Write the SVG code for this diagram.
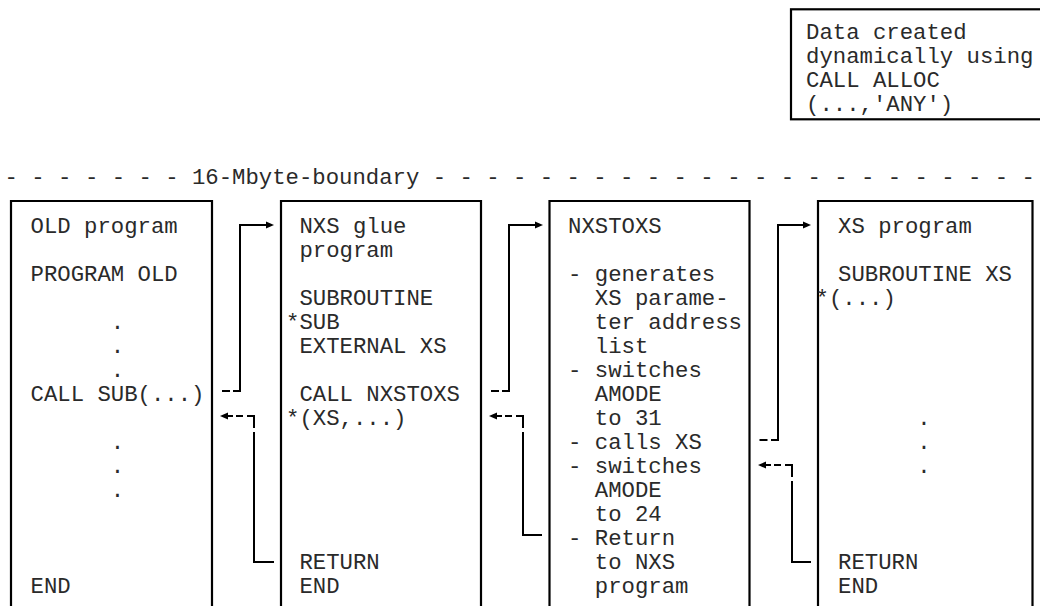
<svg xmlns="http://www.w3.org/2000/svg" width="1040" height="606" viewBox="0 0 1040 606">
<style>
.t{font-family:"Liberation Mono","Courier New",monospace;font-size:22.3px;fill:#2a2a2a}
.b{fill:none;stroke:#000;stroke-width:2.2}
.c{fill:none;stroke:#000;stroke-width:2}
.ah{fill:#000}
</style>
<rect width="1040" height="606" fill="#fff"/>
<g id="dynamic-data">
<rect class="b" x="791" y="9.3" width="270" height="110"/>
<text class="t" x="806" y="39">Data created</text>
<text class="t" x="806" y="63">dynamically using</text>
<text class="t" x="806" y="87">CALL ALLOC</text>
<text class="t" x="806" y="111">(...,'ANY')</text>
</g>
<g id="boundary">
<text class="t" x="4.6" y="184">- - - - - - - 16-Mbyte-boundary - - - - - - - - - - - - - - - - - - - - - - -</text>
</g>
<g id="old-program">
<path class="b" d="M11,608 V201 H212 V608"/>
<text class="t" x="30.5" y="233">OLD program</text>
<text class="t" x="30.5" y="281">PROGRAM OLD</text>
<text class="t" x="110.8" y="329">.</text>
<text class="t" x="110.8" y="353">.</text>
<text class="t" x="110.8" y="377">.</text>
<text class="t" x="30.5" y="401">CALL SUB(...)</text>
<text class="t" x="110.8" y="449">.</text>
<text class="t" x="110.8" y="473">.</text>
<text class="t" x="110.8" y="497">.</text>
<text class="t" x="30.5" y="593">END</text>
</g>
<g id="nxs-glue">
<path class="b" d="M281,608 V201 H481 V608"/>
<text class="t" x="299.4" y="233">NXS glue</text>
<text class="t" x="299.4" y="257">program</text>
<text class="t" x="299.4" y="305">SUBROUTINE</text>
<text class="t" x="286" y="329">*SUB</text>
<text class="t" x="299.4" y="353">EXTERNAL XS</text>
<text class="t" x="299.4" y="401">CALL NXSTOXS</text>
<text class="t" x="286" y="425">*(XS,...)</text>
<text class="t" x="299.4" y="569">RETURN</text>
<text class="t" x="299.4" y="593">END</text>
</g>
<g id="nxstoxs">
<path class="b" d="M549.5,608 V201 H749.5 V608"/>
<text class="t" x="568" y="233">NXSTOXS</text>
<text class="t" x="568" y="281">- generates</text>
<text class="t" x="594.8" y="305">XS parame-</text>
<text class="t" x="594.8" y="329">ter address</text>
<text class="t" x="594.8" y="353">list</text>
<text class="t" x="568" y="377">- switches</text>
<text class="t" x="594.8" y="401">AMODE</text>
<text class="t" x="594.8" y="425">to 31</text>
<text class="t" x="568" y="449">- calls XS</text>
<text class="t" x="568" y="473">- switches</text>
<text class="t" x="594.8" y="497">AMODE</text>
<text class="t" x="594.8" y="521">to 24</text>
<text class="t" x="568" y="545">- Return</text>
<text class="t" x="594.8" y="569">to NXS</text>
<text class="t" x="594.8" y="593">program</text>
</g>
<g id="xs-program">
<path class="b" d="M818,608 V201 H1032.5 V608"/>
<text class="t" x="838" y="233">XS program</text>
<text class="t" x="838" y="281">SUBROUTINE XS</text>
<text class="t" x="815.5" y="305">*(...)</text>
<text class="t" x="917.3" y="425">.</text>
<text class="t" x="917.3" y="449">.</text>
<text class="t" x="917.3" y="473">.</text>
<text class="t" x="838" y="569">RETURN</text>
<text class="t" x="838" y="593">END</text>
</g>
<g id="connectors">
<path class="c" d="M222,391 H230 M233,391 H240 V225 H267"/>
<path class="ah" d="M274,225 L266,221.5 L266,228.5 Z"/>
<path class="ah" d="M220,416 L228,412.5 L228,419.5 Z"/>
<path class="c" d="M227,416 H233 M236,416 H243 M247,416 H254 V428 M254,432 V562 H274"/>
<path class="c" d="M491,391 H499 M502,391 H509 V225 H536"/>
<path class="ah" d="M543,225 L535,221.5 L535,228.5 Z"/>
<path class="ah" d="M489,416 L497,412.5 L497,419.5 Z"/>
<path class="c" d="M496,416 H502 M505,416 H512 M516,416 H523 V428 M523,432 V535 H542"/>
<path class="c" d="M759.5,440 H767.5 M771,440 H778 V225 H804"/>
<path class="ah" d="M811,225 L803,221.5 L803,228.5 Z"/>
<path class="ah" d="M758,465 L766,461.5 L766,468.5 Z"/>
<path class="c" d="M765,465 H771 M774,465 H781 M785,465 H792 V477 M792,481 V562 H811"/>
</g>
</svg>
